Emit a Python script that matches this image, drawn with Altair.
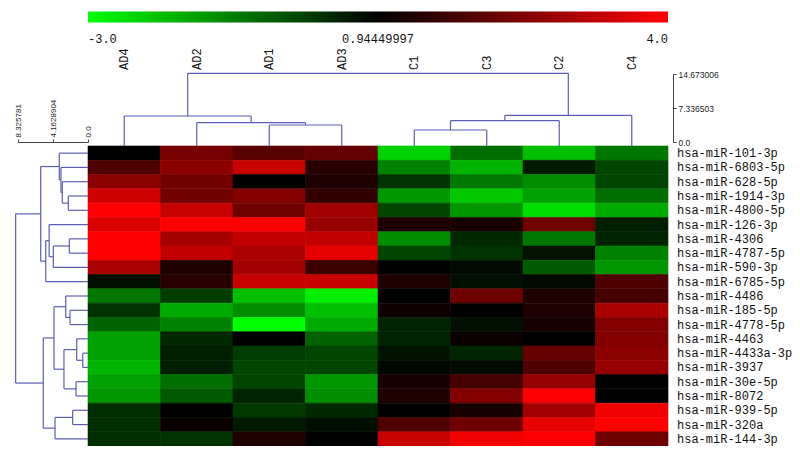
import altair as alt
import pandas as pd

# ---------------- data ----------------
samples = ["AD4", "AD2", "AD1", "AD3", "C1", "C3", "C2", "C4"]
mirnas = [
    "hsa-miR-101-3p", "hsa-miR-6803-5p", "hsa-miR-628-5p", "hsa-miR-1914-3p",
    "hsa-miR-4800-5p", "hsa-miR-126-3p", "hsa-miR-4306", "hsa-miR-4787-5p",
    "hsa-miR-590-3p", "hsa-miR-6785-5p", "hsa-miR-4486", "hsa-miR-185-5p",
    "hsa-miR-4778-5p", "hsa-miR-4463", "hsa-miR-4433a-3p", "hsa-miR-3937",
    "hsa-miR-30e-5p", "hsa-miR-8072", "hsa-miR-939-5p", "hsa-miR-320a",
    "hsa-miR-144-3p",
]

AD4 = [0.94, 1.89, 2.63, 3.45, 4.00, 3.57, 4.00, 4.00, 2.99, 0.71, -0.91,
       0.16, -0.59, -1.54, -1.54, -1.86, -1.54, -1.38, 0.23, 0.23, 0.23]
AD2 = [2.38, 2.63, 2.32, 2.32, 3.33, 4.00, 2.93, 3.27, 1.31, 1.43, 0.00,
       -1.70, -1.07, 0.31, 0.47, 0.47, -0.75, -0.44, 0.94, 1.07, 0.16]
AD1 = [2.01, 3.33, 0.94, 2.50, 2.26, 4.00, 3.27, 2.99, 2.87, 3.33, -2.01,
       -1.23, -3.00, 0.94, 0.00, -0.12, -0.12, 0.39, 0.08, 0.55, 1.31]
AD3 = [2.14, 1.43, 1.31, 1.56, 2.87, 2.75, 3.27, 3.70, 1.68, 3.33, -2.76,
       -2.01, -1.70, -0.59, -0.12, -0.12, -1.38, -1.23, 0.31, 0.71, 0.94]
C1 = [-2.29, -1.07, 0.16, -1.38, -0.12, 1.31, -1.23, -0.12, 0.94, 1.31, 0.94,
      1.13, 0.39, 0.39, 0.63, 0.83, 1.25, 1.31, 0.94, 1.89, 3.33]
C3 = [-0.75, -1.82, -0.91, -2.13, -1.38, 1.25, 0.31, 0.16, 0.79, 0.71, 2.26,
      0.94, 0.71, 1.07, 0.39, 0.79, 1.77, 2.50, 1.25, 2.26, 3.82]
C2 = [-2.01, 0.55, -1.23, -1.54, -2.45, 2.26, -0.91, 0.63, -0.44, 0.79, 1.31,
      1.31, 1.25, 0.94, 2.14, 1.89, 2.75, 3.94, 2.87, 3.70, 3.94]
C4 = [-0.91, -0.12, -0.12, -0.75, -1.70, 0.47, 0.39, -1.07, -1.38, 1.89, 1.77,
      2.99, 2.50, 2.50, 2.63, 2.75, 0.94, 0.94, 3.82, 4.00, 2.26]

# dendrogram merges: (child a, child b, height); ids >= n refer to earlier merges
col_merges = [(2, 3, 4.24), (1, 8, 4.70), (0, 9, 6.05), (4, 5, 3.23),
              (11, 6, 5.11), (12, 7, 6.20), (10, 13, 14.673006)]
row_merges = [(3, 4, 2.35), (2, 21, 3.07), (1, 22, 3.23), (0, 23, 3.43),
              (6, 7, 2.23), (25, 8, 4.14), (5, 26, 4.64), (27, 9, 5.05),
              (24, 28, 5.65), (11, 12, 2.15), (10, 30, 2.66), (14, 15, 0.63),
              (13, 32, 1.35), (16, 17, 1.43), (33, 34, 2.87), (31, 35, 4.06),
              (18, 19, 1.83), (37, 20, 3.94), (36, 38, 5.34), (29, 39, 8.64)]

colorbar_ends = [-3.0, 4.0]
colorbar_labels = ["-3.0", "0.94449997", "4.0"]
col_tree_ticks = [0.0, 7.336503, 14.673006]
row_tree_ticks = [0.0, 4.1628904, 8.325781]

# ---------------- tables ----------------
values = {"AD4": AD4, "AD2": AD2, "AD1": AD1, "AD3": AD3,
          "C1": C1, "C3": C3, "C2": C2, "C4": C4}
heat = pd.DataFrame([
    {"sample": s, "mirna": m, "value": values[s][i]}
    for s in samples for i, m in enumerate(mirnas)
])


def segments(merges, n):
    pos = {i: i + 0.5 for i in range(n)}
    hgt = {i: 0.0 for i in range(n)}
    segs = []
    for k, (a, b, h) in enumerate(merges):
        segs.append(dict(p1=pos[a], p2=pos[a], h1=hgt[a], h2=h))
        segs.append(dict(p1=pos[b], p2=pos[b], h1=hgt[b], h2=h))
        segs.append(dict(p1=pos[a], p2=pos[b], h1=h, h2=h))
        pos[n + k] = (pos[a] + pos[b]) / 2
        hgt[n + k] = h
    return pd.DataFrame(segs)


col_segs = segments(col_merges, len(samples))
row_segs = segments(row_merges, len(mirnas))

# ---------------- layout (pixel ranges) ----------------
W, H = 784, 438
HX = [80, 660]          # heatmap x range
HY = [138, 438]         # heatmap y range
TREE_COLOR = "#5d5db3"
FONT = "Liberation Mono"

color_scale = alt.Scale(domain=[-3, 0.94449997, 4],
                        range=["#00ff00", "#000000", "#ff0000"],
                        interpolate="rgb", clamp=True)

heatmap = alt.Chart(heat).mark_rect(strokeWidth=0.6).encode(
    x=alt.X("sample:N", sort=samples,
            scale=alt.Scale(range=HX, paddingInner=0, paddingOuter=0), axis=None),
    y=alt.Y("mirna:N", sort=mirnas,
            scale=alt.Scale(range=HY, paddingInner=0, paddingOuter=0), axis=None),
    color=alt.Color("value:Q", scale=color_scale, legend=None),
    stroke=alt.Stroke("value:Q", scale=color_scale, legend=None),
)

row_labels = alt.Chart(pd.DataFrame({"mirna": mirnas})).mark_text(
    align="left", baseline="middle", font=FONT, fontSize=12, color="#111"
).encode(
    x=alt.value(669),
    y=alt.Y("mirna:N", sort=mirnas,
            scale=alt.Scale(range=HY, paddingInner=0, paddingOuter=0), axis=None),
    text="mirna:N",
)

col_labels = alt.Chart(pd.DataFrame({"sample": samples})).mark_text(
    align="left", baseline="middle", angle=270, font=FONT, fontSize=12, color="#111"
).encode(
    x=alt.X("sample:N", sort=samples,
            scale=alt.Scale(range=HX, paddingInner=0, paddingOuter=0), axis=None),
    y=alt.value(62),
    text="sample:N",
)

col_tree = alt.Chart(col_segs).mark_rule(color=TREE_COLOR, strokeWidth=1.2).encode(
    x=alt.X("p1:Q", scale=alt.Scale(domain=[0, len(samples)], range=HX,
                                    nice=False, zero=False), axis=None),
    x2="p2:Q",
    y=alt.Y("h1:Q", scale=alt.Scale(domain=[0, 14.673006], range=[138, 65.3],
                                    nice=False, zero=False), axis=None),
    y2="h2:Q",
)

# scale bar for the column dendrogram (an axis carried by an invisible layer)
col_scale_bar = alt.Chart(pd.DataFrame({"t": col_tree_ticks})).mark_tick(opacity=0).encode(
    x=alt.value(665),
    y=alt.Y("t:Q", scale=alt.Scale(domain=[0, 14.673006], range=[134, 66],
                                   nice=False, zero=False),
            axis=alt.Axis(orient="right", values=col_tree_ticks, offset=-119,
                          labelExpr="datum.value == 0 ? '0.0' : format(datum.value, '.6f')",
                          tickSize=3, grid=False, title=None, labelFont="Liberation Sans",
                          labelFontSize=8.5, labelColor="#222", domainColor="#444",
                          tickColor="#444", labelPadding=2, labelFlush=False,
                          labelOverlap=False)),
)

row_tree = alt.Chart(row_segs).mark_rule(color=TREE_COLOR, strokeWidth=1.2).encode(
    y=alt.Y("p1:Q", scale=alt.Scale(domain=[0, len(mirnas)], range=HY,
                                    nice=False, zero=False), axis=None),
    y2="p2:Q",
    x=alt.X("h1:Q", scale=alt.Scale(domain=[0, 8.325781], range=[80, 10.3],
                                    nice=False, zero=False),
            axis=alt.Axis(orient="top", values=row_tree_ticks, offset=-134,
                          labelExpr="datum.value == 0 ? '0.0' : format(datum.value, '.7~f')",
                          labelAngle=270, tickSize=3, grid=False, title=None,
                          labelFont="Liberation Sans", labelFontSize=8,
                          labelColor="#222", domainColor="#444", tickColor="#444",
                          labelPadding=2, labelFlush=False, labelOverlap=False)),
    x2="h2:Q",
)

gradient = alt.LinearGradient(
    gradient="linear", x1=0, x2=1, y1=0, y2=0,
    stops=[alt.GradientStop(color="#00ff00", offset=0),
           alt.GradientStop(color="#000000", offset=0.5),
           alt.GradientStop(color="#ff0000", offset=1)])

colorbar = alt.Chart(pd.DataFrame({"lo": [colorbar_ends[0]], "hi": [colorbar_ends[1]]})
                     ).mark_rect(color=gradient).encode(
    x=alt.X("lo:Q", scale=alt.Scale(domain=colorbar_ends, range=HX, nice=False,
                                    zero=False), axis=None),
    x2="hi:Q",
    y=alt.value(3.5),
    y2=alt.value(14.5),
)

cb_df = pd.DataFrame({"label": colorbar_labels,
                      "align": ["left", "center", "right"]})
cb_layers = []
for al in ["left", "center", "right"]:
    cb_layers.append(
        alt.Chart(cb_df).transform_filter(alt.datum.align == al).mark_text(
            align=al, baseline="middle", font=FONT, fontSize=12, color="#111"
        ).encode(
            x=alt.X("label:N",
                    scale=alt.Scale(type="point", domain=colorbar_labels,
                                    range=HX, padding=0), axis=None),
            y=alt.value(31),
            text="label:N",
        )
    )

chart = alt.layer(
    heatmap, row_labels, col_labels, col_tree, col_scale_bar, row_tree, colorbar,
    *cb_layers
).resolve_scale(
    x="independent", y="independent", color="independent", stroke="independent"
).resolve_axis(
    x="independent", y="independent"
).properties(
    width=W, height=H, padding=0,
    autosize=alt.AutoSizeParams(type="none"),
    background="white",
).configure_view(stroke=None)

chart.save("out.html", embed_options={"renderer": "svg", "actions": False})
